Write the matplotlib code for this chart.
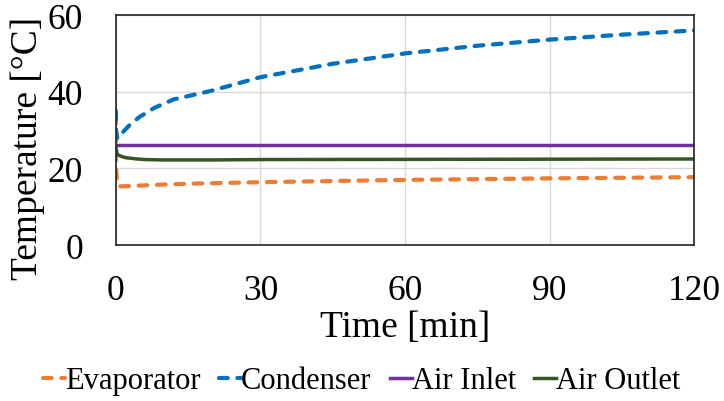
import matplotlib
matplotlib.use("Agg")
import matplotlib.pyplot as plt

plt.rcParams["font.family"] = ["Liberation Serif", "DejaVu Serif"]

# Zeitachse [min] und Temperaturen [°C]
zeit_evap = [0, 0.05, 0.3, 1, 3, 8, 15, 30, 45, 60, 75, 90, 105, 120]
evaporator = [34, 20, 15.8, 15.3, 15.4, 15.7, 16.0, 16.4, 16.7, 17.0, 17.2, 17.4, 17.55, 17.7]

zeit_kond = [0, 0.05, 0.3, 1.5, 3, 5, 8, 12, 20, 30, 45, 60, 75, 90, 105, 120]
condenser = [35, 30, 27.8, 29.5, 31.5, 33.5, 35.8, 38.0, 40.3, 43.8, 47.3, 50.0, 52.0, 53.6, 54.9, 56.0]

zeit_luft = [0, 120]
air_inlet = [26.1, 26.1]

zeit_aus = [0, 0.3, 1, 2, 4, 6, 10, 20, 30, 60, 90, 120]
air_outlet = [25.5, 23.6, 23.2, 22.8, 22.5, 22.3, 22.2, 22.2, 22.3, 22.35, 22.4, 22.45]

x_ticks = [0, 30, 60, 90, 120]
y_ticks = [0, 20, 40, 60]

fig = plt.figure(figsize=(7.24, 4.02), dpi=100)
ax = fig.add_axes([0.160, 0.388, 0.799, 0.572])

strich = (2.1, 2.3)
ax.plot(zeit_evap, evaporator, color="#ED7D31", linewidth=3.0,
        linestyle=(0, strich), dash_capstyle="round", label="Evaporator")
ax.plot(zeit_kond, condenser, color="#0070C0", linewidth=3.0,
        linestyle=(0, strich), dash_capstyle="round", label="Condenser")
ax.plot(zeit_luft, air_inlet, color="#7030A0", linewidth=2.5, label="Air Inlet")
ax.plot(zeit_aus, air_outlet, color="#375623", linewidth=2.5, label="Air Outlet")

ax.set_xlim(0, 120)
ax.set_ylim(0, 60)
ax.set_xticks(x_ticks)
ax.set_yticks(y_ticks)
ax.tick_params(length=0, labelsize=25.5)
ax.tick_params(axis="x", pad=21)
ax.tick_params(axis="y", pad=23.5)
ax.grid(color="#d9d9d9", linewidth=1)
ax.set_axisbelow(True)
for seite in ax.spines.values():
    seite.set_color("#222222")
    seite.set_linewidth(1.2)

ax.set_xlabel("Time [min]", fontsize=27, labelpad=2)
ax.set_ylabel("Temperature [°C]", fontsize=27)
ax.yaxis.set_label_coords(-0.122, 0.424)

fig.legend(loc="center", bbox_to_anchor=(0.5, 0.05), ncol=4, frameon=False,
           fontsize=22, handlelength=0.72, handletextpad=0.0, columnspacing=0.6)

fig.savefig("out.png", dpi=100)
